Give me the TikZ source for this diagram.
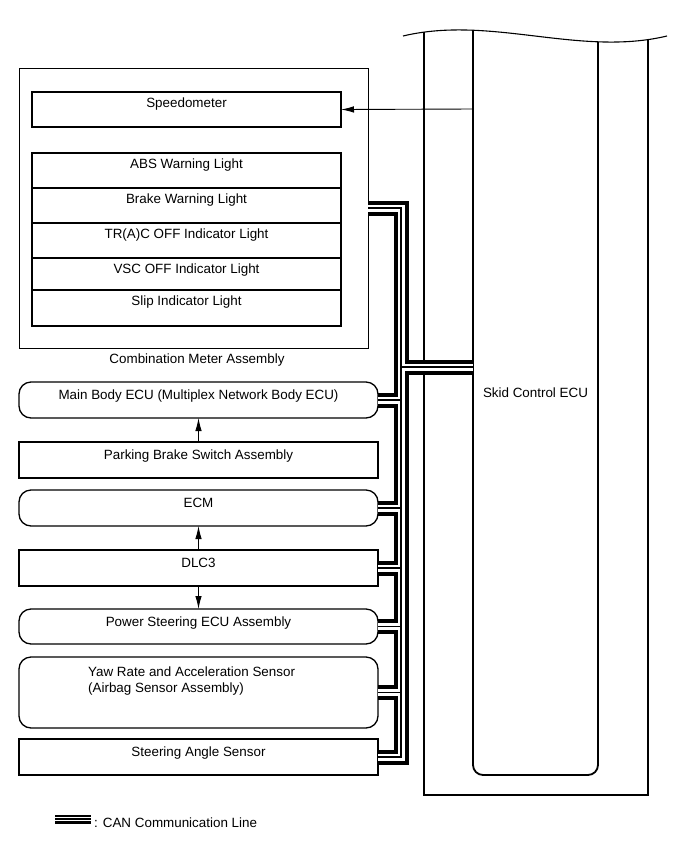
\documentclass[tikz,border=0pt]{standalone}
\usepackage{fontspec}
\setmainfont{Liberation Sans}
\usetikzlibrary{arrows.meta}

\tikzset{
  lbl/.style={font=\fontsize{13.4}{16}\selectfont, inner sep=0pt},
  mbox/.style={draw, line width=1.6pt, inner sep=0pt, outer sep=0pt, minimum width=309pt},
  cbox/.style={draw, line width=1.3pt, inner sep=0pt, outer sep=0pt, minimum width=359pt},
  rbox/.style={cbox, rounded corners=12pt},
  arr/.style={line width=0.9pt, -{Latex[length=13pt,width=6.5pt]}},
}

\begin{document}
\begin{tikzpicture}[x=1pt,y=-1pt]
\useasboundingbox (0,0) rectangle (690,855);

% Combination meter
\node[draw, line width=1pt, inner sep=0pt, outer sep=0pt, minimum width=349pt, minimum height=280pt] (meter) at (193.5,208) {};
\node[lbl, anchor=base] (meter-t) at (197,363) {Combination Meter Assembly};

\node[mbox, minimum height=35pt] (speedo) at (186.5,109.5) {};
\node[lbl, anchor=base] (speedo-t) at ([yshift=-15pt]speedo.north) {Speedometer};

% Warning / indicator lights
\foreach \n/\t/\b/\txt in {abs/153/188/{ABS Warning Light}, brake/188/223/{Brake Warning Light},
    trac/223/258/{TR(A)C OFF Indicator Light}, vsc/258/290/{VSC OFF Indicator Light},
    slip/290/326/{Slip Indicator Light}} {
  \pgfmathsetmacro\h{\b-\t}
  \pgfmathsetmacro\c{(\t+\b)/2}
  \node[mbox, minimum height=\h pt] (\n) at (186.5,\c) {};
  \node[lbl, anchor=base] (\n-t) at ([yshift=-15pt]\n.north) {\txt};
}

% Other ECUs and switches
\node[rbox, minimum height=36pt] (mainbody) at (198.5,400) {};
\node[lbl, anchor=base] (mainbody-t) at ([yshift=-17.5pt]mainbody.north) {Main Body ECU (Multiplex Network Body ECU)};

\node[cbox, minimum height=36pt] (parking) at (198.5,460) {};
\node[lbl, anchor=base] (parking-t) at ([yshift=-17.5pt]parking.north) {Parking Brake Switch Assembly};

\node[rbox, minimum height=36pt] (ecm) at (198.5,508) {};
\node[lbl, anchor=base] (ecm-t) at ([yshift=-17.5pt]ecm.north) {ECM};

\node[cbox, minimum height=36pt] (dlc) at (198.5,568) {};
\node[lbl, anchor=base] (dlc-t) at ([yshift=-17.5pt]dlc.north) {DLC3};

\node[rbox, minimum height=35pt] (pwrsteer) at (198.5,626.5) {};
\node[lbl, anchor=base] (pwrsteer-t) at ([yshift=-17.5pt]pwrsteer.north) {Power Steering ECU Assembly};

\node[rbox, minimum height=71pt] (yaw) at (198.5,692.5) {};
\node[lbl, align=left, anchor=north west] (yaw-t) at (88,667) {Yaw Rate and Acceleration Sensor\\(Airbag Sensor Assembly)};

\node[cbox, minimum height=36pt] (steer) at (198.5,757) {};
\node[lbl, anchor=base] (steer-t) at ([yshift=-17.5pt]steer.north) {Steering Angle Sensor};

\draw[arr] (parking.north) -- (mainbody.south);
\draw[arr] (dlc.north) -- (ecm.south);
\draw[arr] (dlc.south) -- (pwrsteer.north);

% Skid control ECU (cut off at the top)
\begin{scope}
  \clip (403,36) .. controls (491,15) and (579,57) .. (667,36) -- (667,820) -- (403,820) -- cycle;
  \draw[line width=1.3pt] (424,20) -- (424,795) -- (648,795) -- (648,20);
  \draw[line width=1.8pt, rounded corners=10pt] (473,20) -- (473,775) -- (598,775) -- (598,20);
\end{scope}
\draw[line width=1.1pt] (403,36) .. controls (491,15) and (579,57) .. (667,36);
\node[lbl, anchor=base] (skid) at (535.5,397) {Skid Control ECU};

\coordinate (ecuspd) at (473,109);
\coordinate (ecuin) at (473,367);
\draw[arr] (ecuspd) -- (speedo.east);

% CAN bus
\coordinate (trunktop) at (401,208);
\coordinate (trunkbot) at (401,757);
\foreach \w/\c in {15pt/black, 7pt/white, 1.2pt/black}
  \draw[line width=\w, draw=\c]
    (meter.east) -- (trunktop) -- (trunkbot) -- (steer.east)
    (trunktop |- ecuin) -- (ecuin)
    (mainbody.east) -- (mainbody.east -| trunktop)
    (ecm.east) -- (ecm.east -| trunktop)
    (dlc.east) -- (dlc.east -| trunktop)
    (pwrsteer.east) -- (pwrsteer.east -| trunktop)
    (yaw.east) -- (yaw.east -| trunktop);

% Legend
\coordinate (lgA) at (55,819);
\coordinate (lgB) at (91,819);
\foreach \w/\c in {9pt/black, 4pt/white, 1.2pt/black}
  \draw[line width=\w, draw=\c] (lgA) -- (lgB);
\node[lbl, anchor=base west] (lgtext) at (94,827) {: CAN Communication Line};

\end{tikzpicture}
\end{document}
